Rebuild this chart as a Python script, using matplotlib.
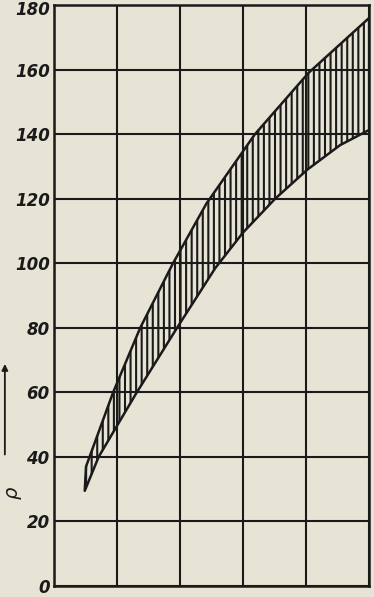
import numpy as np
import matplotlib
matplotlib.use('Agg')
import matplotlib.pyplot as plt
import matplotlib.transforms as mtransforms

# limites da faixa, x em divisoes da grade
x_sup = [0.51, 0.94, 1.37, 1.89, 2.42, 3.19, 4.04, 5.00]
y_sup = [37, 60, 80, 100, 118.5, 140, 159, 176]

x_inf = [0.49, 0.71, 1.30, 1.97, 2.56, 3.00, 3.51, 4.02, 4.54, 5.00]
y_inf = [29.5, 40, 59.5, 80.5, 98.5, 109.5, 120, 129, 136.6, 141.3]

y_ticks = [0, 20, 40, 60, 80, 100, 120, 140, 160, 180]
x_grid = [0, 1, 2, 3, 4, 5]

papel = '#e7e3d5'
tinta = '#1a1a1a'

plt.rcParams['hatch.linewidth'] = 1.5

fig = plt.figure(figsize=(3.74, 5.97), dpi=100, facecolor=papel)
ax = fig.add_axes([0.144, 0.0184, 0.843, 0.9732])
ax.set_facecolor(papel)

# faixa hachurada (contorno + linhas verticais)
xs = np.concatenate([x_sup, x_inf[::-1]])
ys = np.concatenate([y_sup, y_inf[::-1]])
ax.fill(xs, ys, facecolor='none', edgecolor=tinta, hatch='|||', linewidth=1.8,
        joinstyle='round', zorder=3)

ax.set_xlim(0, 5)
ax.set_ylim(0, 180)
ax.set_xticks(x_grid)
ax.set_yticks(y_ticks)
ax.set_xticklabels([])
ax.set_yticklabels([str(v) for v in y_ticks], fontsize=12, style='italic',
                   weight='bold', color=tinta,
                   family=['Liberation Sans Narrow', 'DejaVu Sans'])
ax.tick_params(length=0, pad=3)
ax.grid(True, color=tinta, linewidth=1.5)
for s in ax.spines.values():
    s.set_linewidth(1.8)
    s.set_color(tinta)

# o "180" fica colado na borda de cima; desce um pouco
lbl_top = ax.get_yticklabels()[-1]
lbl_top.set_transform(lbl_top.get_transform() +
                      mtransforms.ScaledTranslation(0, -2 / 72, fig.dpi_scale_trans))

# rotulo do eixo: rho com seta para cima
fig.text(0.032, 0.175, 'ρ', rotation=90, fontsize=14, style='italic',
         color=tinta, ha='center', va='center')
ax.annotate('', xy=(0.013, 0.395), xycoords='figure fraction',
            xytext=(0.013, 0.234), textcoords='figure fraction',
            arrowprops=dict(arrowstyle='-|>', color=tinta, lw=1.3,
                            mutation_scale=9))

plt.savefig('out.png', dpi=100, facecolor=papel)
